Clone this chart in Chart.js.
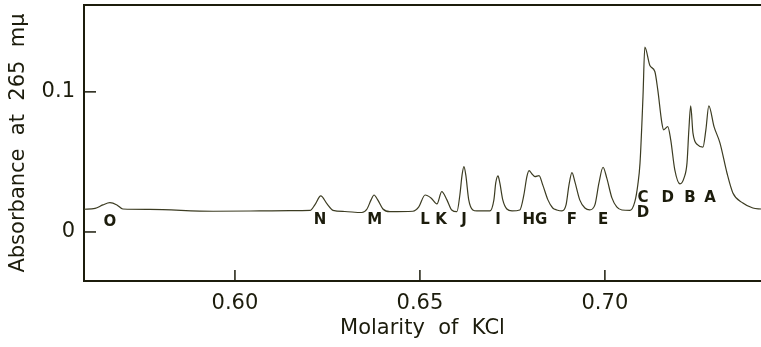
<!DOCTYPE html>
<html>
<head>
<meta charset="utf-8">
<script src="https://cdn.jsdelivr.net/npm/chart.js@4.4.1/dist/chart.umd.min.js"></script>
<style>
  html, body { margin: 0; padding: 0; background: #fff; }
  #wrap { width: 761px; height: 347px; position: relative; }
</style>
</head>
<body>
<div id="wrap"><canvas id="myChart"></canvas></div>
<script>
// elution profile
const molarity = [
    0.5592, 0.5622, 0.5643, 0.5662, 0.5681, 0.5697, 0.5770, 0.5941, 0.6068, 0.6149,
    0.6203, 0.6216, 0.6232, 0.6249, 0.6265, 0.6297, 0.6343, 0.6357, 0.6368, 0.6376,
    0.6386, 0.6400, 0.6419, 0.6481, 0.6497, 0.6514, 0.6530, 0.6546, 0.6559, 0.6573,
    0.6586, 0.6600, 0.6608, 0.6614, 0.6619, 0.6624, 0.6632, 0.6643, 0.6654, 0.6689,
    0.6700, 0.6705, 0.6711, 0.6716, 0.6724, 0.6735, 0.6749, 0.6770, 0.6781, 0.6789,
    0.6795, 0.6803, 0.6811, 0.6822, 0.6832, 0.6846, 0.6859, 0.6870, 0.6884, 0.6895,
    0.6903, 0.6911, 0.6919, 0.6932, 0.6946, 0.6959, 0.6973, 0.6984, 0.6995, 0.7005,
    0.7019, 0.7032, 0.7046, 0.7068, 0.7081, 0.7089, 0.7095, 0.7103, 0.7108, 0.7122,
    0.7135, 0.7143, 0.7154, 0.7159, 0.7170, 0.7178, 0.7189, 0.7203, 0.7214, 0.7222,
    0.7227, 0.7232, 0.7238, 0.7251, 0.7265, 0.7273, 0.7281, 0.7295, 0.7311, 0.7330,
    0.7346, 0.7373, 0.7400, 0.7422
];
const absorbance = [
    0.0162, 0.0168, 0.0193, 0.0209, 0.0193, 0.0164, 0.0161, 0.0148, 0.0150, 0.0152,
    0.0154, 0.0193, 0.0257, 0.0200, 0.0154, 0.0146, 0.0139, 0.0164, 0.0229, 0.0264,
    0.0229, 0.0164, 0.0145, 0.0148, 0.0179, 0.0264, 0.0243, 0.0200, 0.0288, 0.0229,
    0.0157, 0.0145, 0.0264, 0.0407, 0.0466, 0.0407, 0.0229, 0.0157, 0.0150, 0.0150,
    0.0229, 0.0350, 0.0400, 0.0350, 0.0229, 0.0164, 0.0150, 0.0157, 0.0264, 0.0393,
    0.0438, 0.0414, 0.0395, 0.0402, 0.0336, 0.0229, 0.0171, 0.0157, 0.0150, 0.0193,
    0.0336, 0.0424, 0.0357, 0.0229, 0.0171, 0.0157, 0.0193, 0.0350, 0.0462, 0.0386,
    0.0243, 0.0179, 0.0157, 0.0154, 0.0216, 0.0336, 0.0493, 0.0966, 0.1319, 0.1186,
    0.1145, 0.1014, 0.0779, 0.0729, 0.0752, 0.0657, 0.0443, 0.0343, 0.0386, 0.0493,
    0.0729, 0.0900, 0.0707, 0.0621, 0.0605, 0.0729, 0.0900, 0.0752, 0.0636, 0.0421,
    0.0279, 0.0207, 0.0171, 0.0164
];

const xTicks = [0.60, 0.65, 0.70];
const yTicks = [0, 0.1];

// peak letters and where they sit (molarity, absorbance)
const peakNames = ['O', 'N', 'M', 'L', 'K', 'J', 'I', 'HG', 'F', 'E', 'C', 'D', 'D', 'B', 'A'];
const peakX = [0.5662, 0.6230, 0.6378, 0.6514, 0.6557, 0.6619, 0.6711, 0.6811, 0.6911, 0.6995, 0.7103, 0.7103, 0.7170, 0.7230, 0.7284];
const peakY = [0.0070, 0.0085, 0.0085, 0.0085, 0.0085, 0.0085, 0.0085, 0.0085, 0.0085, 0.0085, 0.0245, 0.0135, 0.0245, 0.0245, 0.0245];

const points = molarity.map((m, i) => ({ x: m, y: absorbance[i] }));
const ink = '#1c1c0c';

const frameAndLabels = {
    id: 'frameAndLabels',
    afterDraw(chart) {
        const ctx = chart.ctx;
        const xs = chart.scales.x;
        const ys = chart.scales.y;
        const area = chart.chartArea;
        ctx.save();
        ctx.strokeStyle = ink;
        ctx.lineWidth = 2;
        // top edge of the frame
        ctx.beginPath();
        ctx.moveTo(area.left, area.top);
        ctx.lineTo(area.right, area.top);
        ctx.stroke();
        // tick marks pointing inward
        ctx.lineWidth = 1.5;
        xTicks.forEach(v => {
            const px = xs.getPixelForValue(v);
            ctx.beginPath();
            ctx.moveTo(px, area.bottom);
            ctx.lineTo(px, area.bottom - 11);
            ctx.stroke();
        });
        yTicks.forEach(v => {
            const py = ys.getPixelForValue(v);
            ctx.beginPath();
            ctx.moveTo(area.left, py);
            ctx.lineTo(area.left + 12, py);
            ctx.stroke();
        });
        // peak letters
        ctx.fillStyle = ink;
        ctx.font = 'bold 15px "DejaVu Sans"';
        ctx.textAlign = 'center';
        ctx.textBaseline = 'middle';
        peakNames.forEach((t, i) => {
            ctx.fillText(t, xs.getPixelForValue(peakX[i]), ys.getPixelForValue(peakY[i]));
        });
        ctx.restore();
    }
};

const ctx = document.getElementById('myChart').getContext('2d');

const myChart = new Chart(ctx, {
    type: 'scatter',
    data: {
        datasets: [{
            data: points,
            showLine: true,
            borderColor: '#3c3c22',
            borderWidth: 1.2,
            pointRadius: 0,
            cubicInterpolationMode: 'monotone'
        }]
    },
    options: {
        responsive: true,
        maintainAspectRatio: false,
        animation: false,
        layout: { padding: { top: 5, right: 0, left: 0, bottom: 0 } },
        plugins: {
            legend: { display: false },
            tooltip: { enabled: false }
        },
        scales: {
            x: {
                type: 'linear',
                min: 0.5592,
                max: 0.7422,
                afterBuildTicks: (axis) => { axis.ticks = xTicks.map(v => ({ value: v })); },
                afterFit: (axis) => {
                    axis.height = 66;
                    axis.paddingLeft = 0;
                    axis.paddingRight = 0;
                },
                grid: { display: false, drawTicks: false },
                border: { display: true, color: ink, width: 2 },
                ticks: {
                    color: ink,
                    padding: 10,
                    maxRotation: 0,
                    font: { family: 'DejaVu Sans', size: 21 },
                    callback: (v) => v.toFixed(2)
                },
                title: {
                    display: true,
                    text: 'Molarity  of  KCl',
                    color: ink,
                    font: { family: 'DejaVu Sans', size: 21 },
                    padding: { top: 2, bottom: 6 }
                }
            },
            y: {
                type: 'linear',
                min: -0.035,
                max: 0.162,
                afterBuildTicks: (axis) => { axis.ticks = yTicks.map(v => ({ value: v })); },
                afterFit: (axis) => {
                    axis.width = 84;
                    axis.paddingTop = 0;
                    axis.paddingBottom = 0;
                },
                grid: { display: false, drawTicks: false },
                border: { display: true, color: ink, width: 2 },
                ticks: {
                    color: ink,
                    padding: 9,
                    font: { family: 'DejaVu Sans', size: 21 },
                    callback: (v) => v === 0 ? '0' : String(v)
                },
                title: {
                    display: true,
                    text: 'Absorbance  at  265  mμ',
                    color: ink,
                    font: { family: 'DejaVu Sans', size: 21 },
                    padding: { top: 6, bottom: 0 }
                }
            }
        }
    },
    plugins: [frameAndLabels]
});
</script>
</body>
</html>
